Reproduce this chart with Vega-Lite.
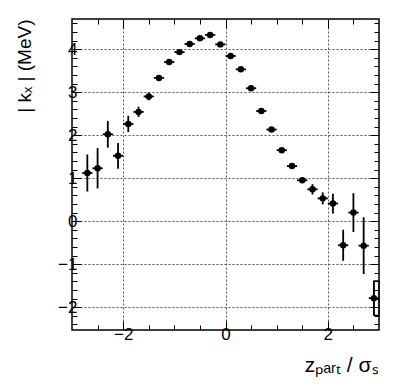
{
  "$schema": "https://vega.github.io/schema/vega-lite/v6.json",
  "width": 307,
  "height": 311,
  "autosize": "none",
  "padding": {"left": 72, "top": 19, "right": 20, "bottom": 54},
  "background": "white",
  "config": {
    "view": {"stroke": "black", "strokeWidth": 1.5},
    "font": "Liberation Sans"
  },
  "data": {
    "values": [
      {"x": -2.7, "xlo": -2.8, "xhi": -2.6, "y": 1.12, "ylo": 0.69, "yhi": 1.55},
      {"x": -2.5, "xlo": -2.6, "xhi": -2.4, "y": 1.23, "ylo": 0.76, "yhi": 1.70},
      {"x": -2.3, "xlo": -2.4, "xhi": -2.2, "y": 2.02, "ylo": 1.71, "yhi": 2.33},
      {"x": -2.1, "xlo": -2.2, "xhi": -2.0, "y": 1.52, "ylo": 1.22, "yhi": 1.82},
      {"x": -1.9, "xlo": -2.0, "xhi": -1.8, "y": 2.26, "ylo": 2.07, "yhi": 2.45},
      {"x": -1.7, "xlo": -1.8, "xhi": -1.6, "y": 2.54, "ylo": 2.42, "yhi": 2.66},
      {"x": -1.5, "xlo": -1.6, "xhi": -1.4, "y": 2.90, "ylo": 2.81, "yhi": 2.99},
      {"x": -1.3, "xlo": -1.4, "xhi": -1.2, "y": 3.33, "ylo": 3.27, "yhi": 3.39},
      {"x": -1.1, "xlo": -1.2, "xhi": -1.0, "y": 3.70, "ylo": 3.65, "yhi": 3.75},
      {"x": -0.9, "xlo": -1.0, "xhi": -0.8, "y": 3.93, "ylo": 3.89, "yhi": 3.97},
      {"x": -0.7, "xlo": -0.8, "xhi": -0.6, "y": 4.12, "ylo": 4.08, "yhi": 4.16},
      {"x": -0.5, "xlo": -0.6, "xhi": -0.4, "y": 4.25, "ylo": 4.22, "yhi": 4.28},
      {"x": -0.3, "xlo": -0.4, "xhi": -0.2, "y": 4.33, "ylo": 4.30, "yhi": 4.36},
      {"x": -0.1, "xlo": -0.2, "xhi": 0.0, "y": 4.11, "ylo": 4.08, "yhi": 4.14},
      {"x": 0.1, "xlo": 0.0, "xhi": 0.2, "y": 3.84, "ylo": 3.81, "yhi": 3.87},
      {"x": 0.3, "xlo": 0.2, "xhi": 0.4, "y": 3.53, "ylo": 3.50, "yhi": 3.56},
      {"x": 0.5, "xlo": 0.4, "xhi": 0.6, "y": 3.09, "ylo": 3.06, "yhi": 3.12},
      {"x": 0.7, "xlo": 0.6, "xhi": 0.8, "y": 2.56, "ylo": 2.53, "yhi": 2.59},
      {"x": 0.9, "xlo": 0.8, "xhi": 1.0, "y": 2.13, "ylo": 2.09, "yhi": 2.17},
      {"x": 1.1, "xlo": 1.0, "xhi": 1.2, "y": 1.65, "ylo": 1.61, "yhi": 1.69},
      {"x": 1.3, "xlo": 1.2, "xhi": 1.4, "y": 1.28, "ylo": 1.23, "yhi": 1.33},
      {"x": 1.5, "xlo": 1.4, "xhi": 1.6, "y": 0.95, "ylo": 0.89, "yhi": 1.01},
      {"x": 1.7, "xlo": 1.6, "xhi": 1.8, "y": 0.74, "ylo": 0.62, "yhi": 0.86},
      {"x": 1.9, "xlo": 1.8, "xhi": 2.0, "y": 0.53, "ylo": 0.39, "yhi": 0.67},
      {"x": 2.1, "xlo": 2.0, "xhi": 2.2, "y": 0.41, "ylo": 0.18, "yhi": 0.64},
      {"x": 2.3, "xlo": 2.2, "xhi": 2.4, "y": -0.56, "ylo": -0.92, "yhi": -0.20},
      {"x": 2.5, "xlo": 2.4, "xhi": 2.6, "y": 0.20, "ylo": -0.25, "yhi": 0.65},
      {"x": 2.7, "xlo": 2.6, "xhi": 2.8, "y": -0.57, "ylo": -1.23, "yhi": 0.09},
      {"x": 2.9, "xlo": 2.8, "xhi": 3.0, "y": -1.79, "ylo": -2.19, "yhi": -1.39}
    ]
  },
  "layer": [
    {
      "mark": {"type": "rule", "color": "black", "strokeWidth": 1.8},
      "encoding": {
        "x": {
          "field": "x", "type": "quantitative",
          "scale": {"domain": [-3, 3], "nice": false, "zero": false},
          "axis": {
            "orient": "bottom",
            "values": [-2.5, -2, -1.5, -1, -0.5, 0, 0.5, 1, 1.5, 2, 2.5],
            "labelExpr": "datum.value % 2 == 0 ? format(datum.value, 'd') : ''",
            "labelFontSize": 17, "labelColor": "black", "labelPadding": 5,
            "labelFont": "Liberation Sans",
            "domain": false,
            "tickColor": "black", "tickWidth": 1,
            "tickSize": {"condition": {"test": "datum.value % 2 == 0", "value": -9}, "value": -5},
            "grid": true, "gridColor": "#555", "gridDash": [2, 2], "gridWidth": 1,
            "gridOpacity": {"condition": {"test": "datum.value % 2 == 0", "value": 1}, "value": 0},
            "title": "zₚₐᵣₜ / σₛ",
            "titleFontSize": 21, "titleFontWeight": "normal", "titleColor": "black",
            "titleFont": "Liberation Sans",
            "titleAnchor": "end", "titleAlign": "right", "titleBaseline": "alphabetic",
            "titleX": 306, "titleY": 41
          }
        },
        "y": {
          "field": "ylo", "type": "quantitative",
          "scale": {"domain": [-2.53, 4.7], "nice": false, "zero": false},
          "axis": {
            "orient": "left",
            "values": [-2.4, -2.2, -2, -1.8, -1.6, -1.4, -1.2, -1, -0.8, -0.6, -0.4, -0.2, 0, 0.2, 0.4, 0.6, 0.8, 1, 1.2, 1.4, 1.6, 1.8, 2, 2.2, 2.4, 2.6, 2.8, 3, 3.2, 3.4, 3.6, 3.8, 4, 4.2, 4.4, 4.6],
            "labelExpr": "abs(datum.value - round(datum.value)) < 0.001 ? format(round(datum.value), 'd') : ''",
            "labelFontSize": 17, "labelColor": "black", "labelPadding": 4,
            "labelFont": "Liberation Sans",
            "domain": false,
            "tickColor": "black", "tickWidth": 1,
            "tickSize": {"condition": {"test": "abs(datum.value - round(datum.value)) < 0.001", "value": -9}, "value": -5},
            "grid": true, "gridColor": "#555", "gridDash": [2, 2], "gridWidth": 1,
            "gridOpacity": {"condition": {"test": "abs(datum.value - round(datum.value)) < 0.001", "value": 1}, "value": 0},
            "title": "| kₓ | (MeV)",
            "titleFontSize": 19, "titleFontWeight": "normal", "titleColor": "black",
            "titleFont": "Liberation Sans",
            "titleAnchor": "end", "titleAlign": "right", "titleBaseline": "alphabetic",
            "titleAngle": 270,
            "titleX": -42, "titleY": 0
          }
        },
        "y2": {"field": "yhi"}
      }
    },
    {
      "mark": {"type": "rule", "color": "black", "strokeWidth": 1.8},
      "encoding": {
        "x": {
          "field": "xlo", "type": "quantitative",
          "axis": {
            "orient": "top",
            "values": [-2.5, -2, -1.5, -1, -0.5, 0, 0.5, 1, 1.5, 2, 2.5],
            "labels": false, "domain": false, "grid": false, "title": null,
            "tickColor": "black", "tickWidth": 1,
            "tickSize": {"condition": {"test": "datum.value % 2 == 0", "value": -9}, "value": -5}
          }
        },
        "x2": {"field": "xhi"},
        "y": {
          "field": "y", "type": "quantitative",
          "axis": {
            "orient": "right",
            "values": [-2.4, -2.2, -2, -1.8, -1.6, -1.4, -1.2, -1, -0.8, -0.6, -0.4, -0.2, 0, 0.2, 0.4, 0.6, 0.8, 1, 1.2, 1.4, 1.6, 1.8, 2, 2.2, 2.4, 2.6, 2.8, 3, 3.2, 3.4, 3.6, 3.8, 4, 4.2, 4.4, 4.6],
            "labels": false, "domain": false, "grid": false, "title": null,
            "tickColor": "black", "tickWidth": 1,
            "tickSize": {"condition": {"test": "abs(datum.value - round(datum.value)) < 0.001", "value": -9}, "value": -5}
          }
        }
      }
    },
    {
      "transform": [{"filter": "datum.x > 2.8"}],
      "mark": {"type": "rect", "fill": null, "fillOpacity": 0, "stroke": "black", "strokeWidth": 1.2},
      "encoding": {
        "x": {"field": "x", "type": "quantitative", "axis": null},
        "x2": {"field": "xhi"},
        "y": {"field": "ylo", "type": "quantitative", "axis": null},
        "y2": {"field": "yhi"}
      }
    },
    {
      "mark": {"type": "point", "filled": true, "size": 42, "color": "black", "opacity": 1},
      "encoding": {
        "x": {"field": "x", "type": "quantitative", "axis": null},
        "y": {"field": "y", "type": "quantitative", "axis": null}
      }
    }
  ],
  "resolve": {"axis": {"x": "independent", "y": "independent"}}
}
